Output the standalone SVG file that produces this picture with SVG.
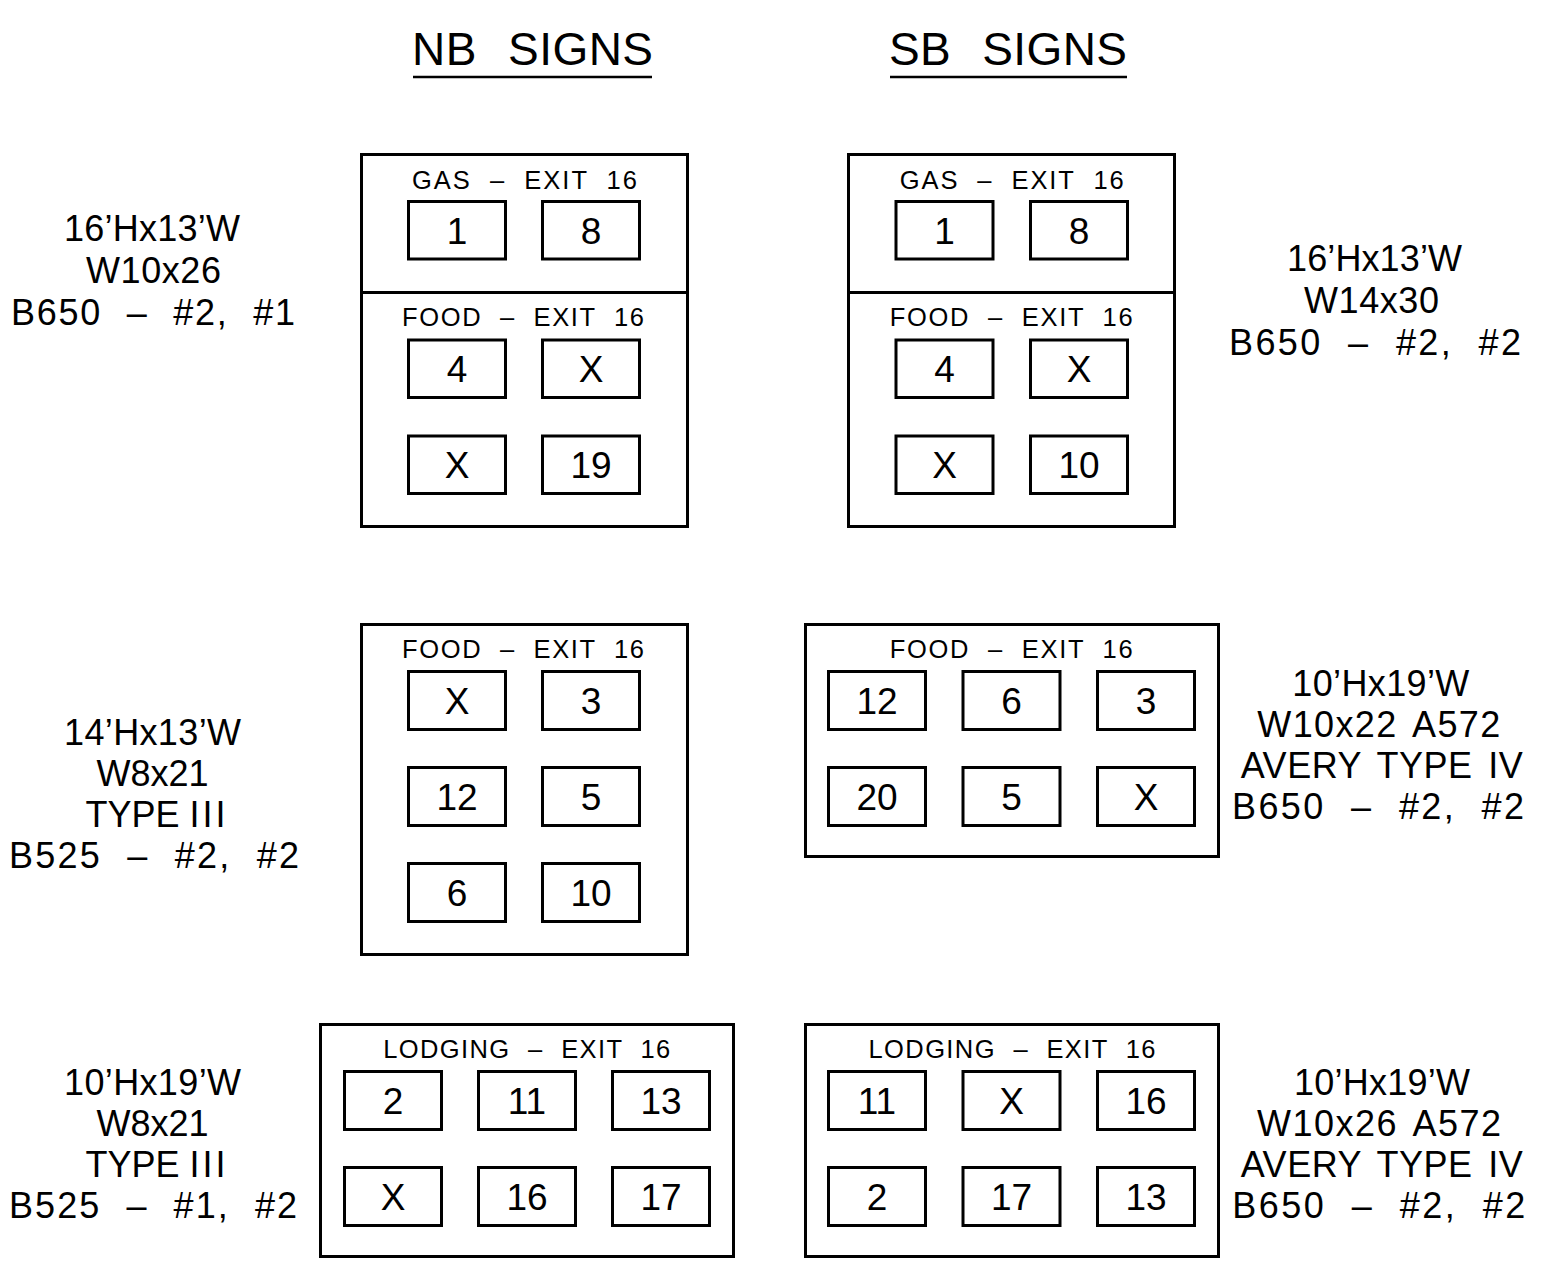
<svg xmlns="http://www.w3.org/2000/svg" width="1568" height="1267" viewBox="0 0 1568 1267">
<style>
  .bg{fill:#fff}
  .frame{fill:none;stroke:#000;stroke-width:3}
  .cell{fill:none;stroke:#000;stroke-width:3}
  text{font-family:"Liberation Sans",Arial,sans-serif;fill:#000;text-anchor:middle}
  .title{font-size:46px;word-spacing:18px}
  .hdr{font-size:25.5px;word-spacing:9px}
  .num{font-size:37px}
  .lbl{font-size:36px;word-spacing:5px}
  .lblw{word-spacing:13px}
  .tight{word-spacing:0}
  .wide{letter-spacing:3px}
  .ul{stroke:#000;stroke-width:2.5}
</style>
<rect class="bg" x="0" y="0" width="1568" height="1267"/>

<g id="titles">
  <text class="title" x="532.5" y="65" textLength="241" lengthAdjust="spacing">NB SIGNS</text>
  <line class="ul" x1="413" y1="77" x2="652" y2="77"/>
  <text class="title" x="1008" y="65" textLength="238" lengthAdjust="spacing">SB SIGNS</text>
  <line class="ul" x1="890" y1="77" x2="1127" y2="77"/>
</g>

<g id="nb-top">
  <rect class="frame" x="361.5" y="154.5" width="326" height="372"/>
  <line class="frame" x1="361.5" y1="292.5" x2="687.5" y2="292.5"/>
  <text class="hdr" x="524.5" y="188.5" textLength="225" lengthAdjust="spacing">GAS – EXIT 16</text>
  <rect class="cell" x="408.5" y="201.5" width="97" height="57.5"/>
  <rect class="cell" x="542.5" y="201.5" width="97" height="57.5"/>
  <text class="num" x="457" y="243.5">1</text>
  <text class="num" x="591" y="243.5">8</text>
  <text class="hdr" x="523" y="326" textLength="242" lengthAdjust="spacing">FOOD – EXIT 16</text>
  <rect class="cell" x="408.5" y="340" width="97" height="57.5"/>
  <rect class="cell" x="542.5" y="340" width="97" height="57.5"/>
  <text class="num" x="457" y="382">4</text>
  <text class="num" x="591" y="382">X</text>
  <rect class="cell" x="408.5" y="436" width="97" height="57.5"/>
  <rect class="cell" x="542.5" y="436" width="97" height="57.5"/>
  <text class="num" x="457" y="478">X</text>
  <text class="num" x="591" y="478">19</text>
</g>

<g id="sb-top">
  <rect class="frame" x="848.5" y="154.5" width="326" height="372"/>
  <line class="frame" x1="848.5" y1="292.5" x2="1174.5" y2="292.5"/>
  <text class="hdr" x="1011.7" y="188.5" textLength="224" lengthAdjust="spacing">GAS – EXIT 16</text>
  <rect class="cell" x="896" y="201.5" width="97" height="57.5"/>
  <rect class="cell" x="1030.5" y="201.5" width="97" height="57.5"/>
  <text class="num" x="944.5" y="243.5">1</text>
  <text class="num" x="1079" y="243.5">8</text>
  <text class="hdr" x="1011.2" y="326" textLength="243" lengthAdjust="spacing">FOOD – EXIT 16</text>
  <rect class="cell" x="896" y="340" width="97" height="57.5"/>
  <rect class="cell" x="1030.5" y="340" width="97" height="57.5"/>
  <text class="num" x="944.5" y="382">4</text>
  <text class="num" x="1079" y="382">X</text>
  <rect class="cell" x="896" y="436" width="97" height="57.5"/>
  <rect class="cell" x="1030.5" y="436" width="97" height="57.5"/>
  <text class="num" x="944.5" y="478">X</text>
  <text class="num" x="1079" y="478">10</text>
</g>

<g id="nb-middle">
  <rect class="frame" x="361.5" y="624.5" width="326" height="330"/>
  <text class="hdr" x="523" y="658.3" textLength="242" lengthAdjust="spacing">FOOD – EXIT 16</text>
  <rect class="cell" x="408.5" y="671.5" width="97" height="58"/>
  <rect class="cell" x="542.5" y="671.5" width="97" height="58"/>
  <text class="num" x="457" y="714">X</text>
  <text class="num" x="591" y="714">3</text>
  <rect class="cell" x="408.5" y="767.5" width="97" height="58"/>
  <rect class="cell" x="542.5" y="767.5" width="97" height="58"/>
  <text class="num" x="457" y="810">12</text>
  <text class="num" x="591" y="810">5</text>
  <rect class="cell" x="408.5" y="863.5" width="97" height="58"/>
  <rect class="cell" x="542.5" y="863.5" width="97" height="58"/>
  <text class="num" x="457" y="906">6</text>
  <text class="num" x="591" y="906">10</text>
</g>

<g id="sb-middle">
  <rect class="frame" x="805.5" y="624.5" width="413" height="232"/>
  <text class="hdr" x="1011.2" y="658.3" textLength="243" lengthAdjust="spacing">FOOD – EXIT 16</text>
  <rect class="cell" x="828.5" y="671.5" width="97" height="58"/>
  <rect class="cell" x="963" y="671.5" width="97" height="58"/>
  <rect class="cell" x="1097.5" y="671.5" width="97" height="58"/>
  <text class="num" x="877" y="714">12</text>
  <text class="num" x="1011.5" y="714">6</text>
  <text class="num" x="1146" y="714">3</text>
  <rect class="cell" x="828.5" y="767.5" width="97" height="58"/>
  <rect class="cell" x="963" y="767.5" width="97" height="58"/>
  <rect class="cell" x="1097.5" y="767.5" width="97" height="58"/>
  <text class="num" x="877" y="810">20</text>
  <text class="num" x="1011.5" y="810">5</text>
  <text class="num" x="1146" y="810">X</text>
</g>

<g id="nb-bottom">
  <rect class="frame" x="320.5" y="1024.5" width="413" height="232"/>
  <text class="hdr" x="526.7" y="1058.3" textLength="287" lengthAdjust="spacing">LODGING – EXIT 16</text>
  <rect class="cell" x="344.5" y="1071.5" width="97" height="58"/>
  <rect class="cell" x="478.5" y="1071.5" width="97" height="58"/>
  <rect class="cell" x="612.5" y="1071.5" width="97" height="58"/>
  <text class="num" x="393" y="1114">2</text>
  <text class="num" x="527" y="1114">11</text>
  <text class="num" x="661" y="1114">13</text>
  <rect class="cell" x="344.5" y="1167.5" width="97" height="58"/>
  <rect class="cell" x="478.5" y="1167.5" width="97" height="58"/>
  <rect class="cell" x="612.5" y="1167.5" width="97" height="58"/>
  <text class="num" x="393" y="1210">X</text>
  <text class="num" x="527" y="1210">16</text>
  <text class="num" x="661" y="1210">17</text>
</g>

<g id="sb-bottom">
  <rect class="frame" x="805.5" y="1024.5" width="413" height="232"/>
  <text class="hdr" x="1012" y="1058.3" textLength="287" lengthAdjust="spacing">LODGING – EXIT 16</text>
  <rect class="cell" x="828.5" y="1071.5" width="97" height="58"/>
  <rect class="cell" x="963" y="1071.5" width="97" height="58"/>
  <rect class="cell" x="1097.5" y="1071.5" width="97" height="58"/>
  <text class="num" x="877" y="1114">11</text>
  <text class="num" x="1011.5" y="1114">X</text>
  <text class="num" x="1146" y="1114">16</text>
  <rect class="cell" x="828.5" y="1167.5" width="97" height="58"/>
  <rect class="cell" x="963" y="1167.5" width="97" height="58"/>
  <rect class="cell" x="1097.5" y="1167.5" width="97" height="58"/>
  <text class="num" x="877" y="1210">2</text>
  <text class="num" x="1011.5" y="1210">17</text>
  <text class="num" x="1146" y="1210">13</text>
</g>

<g id="label-nb-top">
  <text class="lbl" x="152" y="241" textLength="176" lengthAdjust="spacing">16’Hx13’W</text>
  <text class="lbl" x="153.5" y="283" textLength="135" lengthAdjust="spacing">W10x26</text>
  <text class="lbl lblw" x="153" y="325" textLength="284" lengthAdjust="spacing">B650 – #2, #1</text>
</g>
<g id="label-sb-top">
  <text class="lbl" x="1374.5" y="271" textLength="175" lengthAdjust="spacing">16’Hx13’W</text>
  <text class="lbl" x="1371.5" y="313" textLength="135" lengthAdjust="spacing">W14x30</text>
  <text class="lbl lblw" x="1375" y="355" textLength="292" lengthAdjust="spacing">B650 – #2, #2</text>
</g>
<g id="label-nb-middle">
  <text class="lbl" x="152.5" y="745" textLength="177" lengthAdjust="spacing">14’Hx13’W</text>
  <text class="lbl" x="152.5" y="786">W8x21</text>
  <text class="lbl tight" x="157" y="827">TYPE <tspan class="wide">III</tspan></text>
  <text class="lbl lblw" x="154" y="868" textLength="290" lengthAdjust="spacing">B525 – #2, #2</text>
</g>
<g id="label-nb-bottom">
  <text class="lbl" x="152.5" y="1095" textLength="177" lengthAdjust="spacing">10’Hx19’W</text>
  <text class="lbl" x="152.5" y="1136">W8x21</text>
  <text class="lbl tight" x="157" y="1177">TYPE <tspan class="wide">III</tspan></text>
  <text class="lbl lblw" x="153" y="1218" textLength="288" lengthAdjust="spacing">B525 – #1, #2</text>
</g>
<g id="label-sb-middle">
  <text class="lbl" x="1380.8" y="696" textLength="177" lengthAdjust="spacing">10’Hx19’W</text>
  <text class="lbl" x="1378.8" y="737" textLength="243" lengthAdjust="spacing">W10x22 A572</text>
  <text class="lbl" x="1381.7" y="778" textLength="282" lengthAdjust="spacing">AVERY TYPE IV</text>
  <text class="lbl lblw" x="1378" y="819" textLength="292" lengthAdjust="spacing">B650 – #2, #2</text>
</g>
<g id="label-sb-bottom">
  <text class="lbl" x="1382" y="1095" textLength="176" lengthAdjust="spacing">10’Hx19’W</text>
  <text class="lbl" x="1379" y="1136" textLength="244" lengthAdjust="spacing">W10x26 A572</text>
  <text class="lbl" x="1381.7" y="1177" textLength="282" lengthAdjust="spacing">AVERY TYPE IV</text>
  <text class="lbl lblw" x="1378.7" y="1218" textLength="293" lengthAdjust="spacing">B650 – #2, #2</text>
</g>

<g id="connectors"></g>
</svg>
